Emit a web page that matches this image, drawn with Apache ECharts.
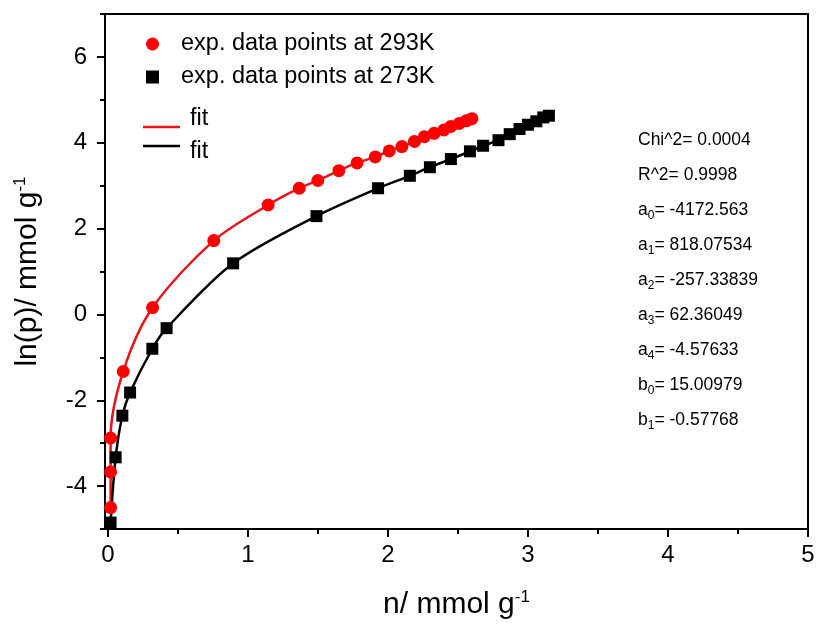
<!DOCTYPE html>
<html>
<head>
<meta charset="utf-8">
<script src="https://cdn.jsdelivr.net/npm/echarts@6/dist/echarts.min.js"></script>
<style>html,body{margin:0;padding:0;background:#fff;}#c{width:820px;height:629px;}</style>
</head>
<body>
<div id="c"></div>
<script>
// Data
const red293 = [
  [0.02,-4.50],[0.02,-3.67],[0.02,-2.88],[0.11,-1.33],[0.32,0.16],[0.757,1.72],
  [1.145,2.55],[1.367,2.94],[1.50,3.12],[1.65,3.35],[1.78,3.53],[1.91,3.67],
  [2.01,3.81],[2.10,3.91],[2.19,4.03],[2.26,4.14],[2.33,4.22],[2.40,4.30],
  [2.45,4.38],[2.51,4.45],[2.56,4.51],[2.60,4.56]
];
const black273 = [
  [0.02,-4.85],[0.056,-3.33],[0.104,-2.36],[0.159,-1.82],[0.318,-0.80],[0.42,-0.32],
  [0.895,1.19],[1.49,2.29],[1.93,2.94],[2.157,3.23],[2.30,3.43],[2.45,3.62],
  [2.586,3.80],[2.68,3.93],[2.79,4.06],[2.87,4.20],[2.94,4.32],[3.00,4.42],
  [3.06,4.50],[3.11,4.59],[3.15,4.63]
];
const xMajor = [0,1,2,3,4,5];
const xMinor = [0.5,1.5,2.5,3.5,4.5];
const yMajor = [-4,-2,0,2,4,6];
const yMinor = [-5,-3,-1,1,3,5,7];
const fitParams = [
  ['Chi^2= 0.0004', '', ''],
  ['R^2= 0.9998', '', ''],
  ['a', '0', '= -4172.563'],
  ['a', '1', '= 818.07534'],
  ['a', '2', '= -257.33839'],
  ['a', '3', '= 62.36049'],
  ['a', '4', '= -4.57633'],
  ['b', '0', '= 15.00979'],
  ['b', '1', '= -0.57768']
];
const seriesNames = ['exp. data points at 293K', 'exp. data points at 273K'];

const FONT = 'Liberation Sans, Arial, sans-serif';
const chart = echarts.init(document.getElementById('c'), null, {renderer: 'canvas'});

const graphics = fitParams.map((p, i) => ({
  type: 'text',
  left: 638,
  top: 143 + i * 35 - 12,
  style: {
    text: p[1] ? `{b|${p[0]}}{s|${p[1]}}{b|${p[2]}}` : `{b|${p[0]}}`,
    rich: {
      b: {fontSize: 17.5, lineHeight: 24, fontFamily: FONT, fill: '#000'},
      s: {fontSize: 12, lineHeight: 12, verticalAlign: 'bottom', fontFamily: FONT, fill: '#000'}
    }
  }
}));

const titleRich = {
  b: {fontSize: 30, lineHeight: 32, fontFamily: FONT, color: '#000'},
  s: {fontSize: 17, lineHeight: 17, verticalAlign: 'top', fontFamily: FONT, color: '#000'}
};

const fitLegend = (name, top, pad) => ({
  data: [{name: name, icon: 'rect'}],
  orient: 'vertical', left: 138, top: top,
  itemWidth: 37, itemHeight: 2.5, itemGap: 0,
  formatter: () => '{t|fit}',
  textStyle: {
    fontSize: 23.5, fontFamily: FONT, color: '#000',
    rich: {t: {fontSize: 23.5, lineHeight: 20, fontFamily: FONT, color: '#000', padding: pad}}
  },
  selectedMode: false
});

chart.setOption({
  backgroundColor: '#fff',
  animation: false,
  grid: {left: 105, right: 12, top: 14, bottom: 100, show: true, borderColor: '#000', borderWidth: 2, backgroundColor: 'transparent'},
  legend: [
    {
      data: seriesNames, orient: 'vertical', left: 141, top: 27,
      itemWidth: 13, itemHeight: 13, itemGap: 9,
      textStyle: {fontSize: 23.5, lineHeight: 24, fontFamily: FONT, color: '#000', padding: [0,0,0,17]},
      selectedMode: false
    },
    fitLegend('fit293', 102, [0,0,16,5]),
    fitLegend('fit273', 123, [12,0,0,5])
  ],
  xAxis: [
    {
      type: 'value', min: -0.02, max: 5, position: 'bottom',
      name: '{b|n/ mmol g}{s|-1}', nameLocation: 'middle', nameGap: 60,
      nameTextStyle: {rich: titleRich},
      axisLine: {show: true, onZero: false, lineStyle: {color: '#000', width: 2}},
      axisTick: {show: true, customValues: xMajor, length: 8, lineStyle: {color: '#000', width: 2}},
      axisLabel: {customValues: xMajor, fontSize: 24, fontFamily: FONT, color: '#000', margin: 14},
      splitLine: {show: false}
    },
    {
      type: 'value', min: -0.02, max: 5, position: 'bottom',
      axisLine: {show: false, onZero: false},
      axisTick: {show: true, customValues: xMinor, length: 5, lineStyle: {color: '#000', width: 2}},
      axisLabel: {show: false},
      splitLine: {show: false}
    }
  ],
  yAxis: [
    {
      type: 'value', min: -5, max: 7, position: 'left',
      name: '{b|ln(p)/ mmol g}{s|-1}', nameLocation: 'middle', nameGap: 61,
      nameTextStyle: {rich: titleRich},
      axisLine: {show: true, onZero: false, lineStyle: {color: '#000', width: 2}},
      axisTick: {show: true, customValues: yMajor, length: 8, lineStyle: {color: '#000', width: 2}},
      axisLabel: {customValues: yMajor, fontSize: 24, fontFamily: FONT, color: '#000', margin: 18},
      splitLine: {show: false}
    },
    {
      type: 'value', min: -5, max: 7, position: 'left',
      axisLine: {show: false, onZero: false},
      axisTick: {show: true, customValues: yMinor, length: 5, lineStyle: {color: '#000', width: 2}},
      axisLabel: {show: false},
      splitLine: {show: false}
    }
  ],
  series: [
    {
      name: 'fit293', type: 'line', data: red293, smooth: 0.3, symbol: 'none',
      lineStyle: {color: '#e3161c', width: 2.5}, itemStyle: {color: '#e3161c'}, z: 2
    },
    {
      name: 'fit273', type: 'line', data: black273, smooth: 0.3, symbol: 'none',
      lineStyle: {color: '#000', width: 2.5}, itemStyle: {color: '#000'}, z: 2
    },
    {
      name: seriesNames[0], type: 'scatter', data: red293, symbol: 'circle', symbolSize: 13,
      itemStyle: {color: '#ff0000', opacity: 1}, z: 4
    },
    {
      name: seriesNames[1], type: 'scatter', data: black273, symbol: 'rect', symbolSize: 12,
      itemStyle: {color: '#000', opacity: 1}, z: 3
    }
  ],
  graphic: graphics
});
</script>
</body>
</html>
